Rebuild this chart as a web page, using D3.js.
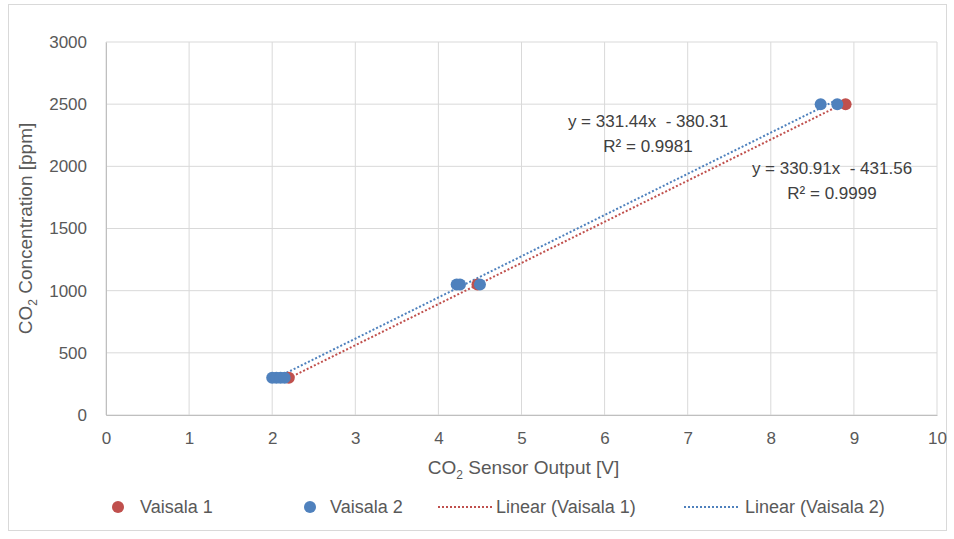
<!DOCTYPE html>
<html>
<head>
<meta charset="utf-8">
<script src="https://cdn.jsdelivr.net/npm/d3@7"></script>
<style>
  body { margin: 0; background: #fff; }
  svg text { font-family: "Liberation Sans", Arial, sans-serif; white-space: pre; }
</style>
</head>
<body>
<div id="chart"></div>
<script>
// series data
const vaisala1X = [2.2, 4.47, 8.9];
const vaisala1Y = [300, 1050, 2500];
const vaisala2X = [2.0, 2.05, 2.1, 2.15, 4.22, 4.26, 4.5, 8.6, 8.8];
const vaisala2Y = [300, 300, 300, 300, 1050, 1050, 1050, 2500, 2500];

// linear trendlines as printed on the chart
const fitSlope = [330.91, 331.44];
const fitIntercept = [-431.56, -380.31];
const fitLabels = [
  ['y = 330.91x  - 431.56', 'R² = 0.9999'],
  ['y = 331.44x  - 380.31', 'R² = 0.9981']
];

const xTicks = [0, 1, 2, 3, 4, 5, 6, 7, 8, 9, 10];
const yTicks = [0, 500, 1000, 1500, 2000, 2500, 3000];
const seriesNames = ['Vaisala 1', 'Vaisala 2'];
const colors = ['#C0504D', '#4F81BD'];

const width = 954, height = 539;
const margin = { top: 42, right: 17, bottom: 124, left: 106 };
const w = width - margin.left - margin.right;
const h = height - margin.top - margin.bottom;

const svg = d3.select('#chart').append('svg')
  .attr('width', width)
  .attr('height', height);

// outer chart border
svg.append('rect')
  .attr('x', 8.5).attr('y', 4.5)
  .attr('width', 938).attr('height', 526)
  .attr('fill', 'none')
  .attr('stroke', '#d9d9d9');

const g = svg.append('g')
  .attr('transform', `translate(${margin.left},${margin.top})`);

const x = d3.scaleLinear().domain([0, 10]).range([0, w]);
const y = d3.scaleLinear().domain([0, 3000]).range([h, 0]);

// gridlines
g.append('g')
  .selectAll('line')
  .data(xTicks)
  .enter()
  .append('line')
  .attr('x1', (d) => x(d)).attr('x2', (d) => x(d))
  .attr('y1', 0).attr('y2', h)
  .attr('stroke', '#d9d9d9');

g.append('g')
  .selectAll('line')
  .data(yTicks)
  .enter()
  .append('line')
  .attr('x1', 0).attr('x2', w)
  .attr('y1', (d) => y(d)).attr('y2', (d) => y(d))
  .attr('stroke', '#d9d9d9');

// axes
const xAxis = g.append('g')
  .attr('transform', `translate(0,${h})`)
  .call(d3.axisBottom(x).tickValues(xTicks).tickFormat(d3.format('d')).tickSize(0).tickPadding(17));
xAxis.select('.domain').attr('stroke', '#bfbfbf');
xAxis.selectAll('text').attr('fill', '#595959').style('font-size', '17px');

const yAxis = g.append('g')
  .call(d3.axisLeft(y).tickValues(yTicks).tickFormat(d3.format('d')).tickSize(0).tickPadding(19));
yAxis.select('.domain').attr('stroke', '#bfbfbf');
yAxis.selectAll('text').attr('fill', '#595959').style('font-size', '17px');

// axis titles
const xTitle = svg.append('text')
  .attr('x', margin.left + w / 2 + 2)
  .attr('y', 474)
  .attr('text-anchor', 'middle')
  .attr('fill', '#595959')
  .style('font-size', '19px');
xTitle.append('tspan').text('CO');
xTitle.append('tspan').attr('dy', 5).style('font-size', '12px').text('2');
xTitle.append('tspan').attr('dy', -5).text(' Sensor Output [V]');

const yTitle = svg.append('text')
  .attr('transform', `translate(32,${margin.top + h / 2}) rotate(-90)`)
  .attr('text-anchor', 'middle')
  .attr('fill', '#595959')
  .style('font-size', '19px');
yTitle.append('tspan').text('CO');
yTitle.append('tspan').attr('dy', 5).style('font-size', '12px').text('2');
yTitle.append('tspan').attr('dy', -5).text(' Concentration [ppm]');

// trendlines
const seriesX = [vaisala1X, vaisala2X];
[0, 1].forEach((i) => {
  const ext = d3.extent(seriesX[i]);
  g.append('line')
    .attr('x1', x(ext[0])).attr('y1', y(fitSlope[i] * ext[0] + fitIntercept[i]))
    .attr('x2', x(ext[1])).attr('y2', y(fitSlope[i] * ext[1] + fitIntercept[i]))
    .attr('stroke', colors[i])
    .attr('stroke-width', 2)
    .attr('stroke-dasharray', '2,2');
});

// points
const pts1 = vaisala1X.map((d, i) => ({ x: d, y: vaisala1Y[i] }));
const pts2 = vaisala2X.map((d, i) => ({ x: d, y: vaisala2Y[i] }));

g.selectAll('.p1')
  .data(pts1)
  .enter()
  .append('circle')
  .attr('class', 'p1')
  .attr('cx', (d) => x(d.x))
  .attr('cy', (d) => y(d.y))
  .attr('r', 6)
  .attr('fill', colors[0]);

g.selectAll('.p2')
  .data(pts2)
  .enter()
  .append('circle')
  .attr('class', 'p2')
  .attr('cx', (d) => x(d.x))
  .attr('cy', (d) => y(d.y))
  .attr('r', 6)
  .attr('fill', colors[1]);

// trendline labels
const labelPos = [[832, 168], [648, 121]];
[0, 1].forEach((i) => {
  fitLabels[i].forEach((t, j) => {
    svg.append('text')
      .attr('x', labelPos[i][0])
      .attr('y', labelPos[i][1] + j * 25 + 6)
      .attr('text-anchor', 'middle')
      .attr('fill', '#404040')
      .style('font-size', '17px')
      .text(t);
  });
});

// legend
const legY = 507;
const legend = svg.append('g');
[[118, 140], [310, 330]].forEach((p, i) => {
  legend.append('circle')
    .attr('cx', p[0]).attr('cy', legY).attr('r', 6)
    .attr('fill', colors[i]);
  legend.append('text')
    .attr('x', p[1]).attr('y', legY + 6)
    .attr('fill', '#595959')
    .style('font-size', '18px')
    .text(seriesNames[i]);
});
[[438, 496], [684, 745]].forEach((p, i) => {
  legend.append('line')
    .attr('x1', p[0]).attr('x2', p[0] + 54)
    .attr('y1', legY).attr('y2', legY)
    .attr('stroke', colors[i])
    .attr('stroke-width', 2)
    .attr('stroke-dasharray', '2,2');
  legend.append('text')
    .attr('x', p[1]).attr('y', legY + 6)
    .attr('fill', '#595959')
    .style('font-size', '18px')
    .text(`Linear (${seriesNames[i]})`);
});
</script>
</body>
</html>
